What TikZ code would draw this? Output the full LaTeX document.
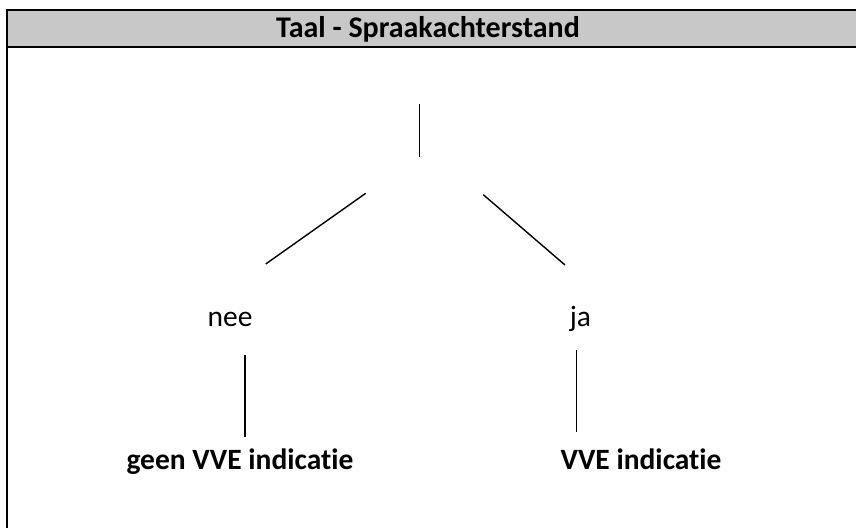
\documentclass[tikz,border=0pt]{standalone}
\usepackage{fontspec}
\setmainfont{Carlito}[Ligatures=NoCommon]
\usepackage{tikz}
\usetikzlibrary{positioning}
\definecolor{kopgrijs}{RGB}{200,200,200}

\begin{document}
\begin{tikzpicture}[x=1pt,y=-1pt,
		tekst/.style={anchor=base,inner sep=0pt,font=\fontsize{29.5}{34}\selectfont},
		vet/.style={tekst,font=\fontsize{29.5}{34}\selectfont\bfseries},
		rand/.style={line width=2.2pt},
		tak/.style={line width=1.4pt}]
		\useasboundingbox (0,0) rectangle (856,527);
		\fill[kopgrijs] (6.7,10) rectangle (870,46.7);
		\draw[rand] (6.7,540) -- (6.7,10) -- (870,10);
		\draw[rand] (6.7,46.7) -- (870,46.7);
		\node[vet,font=\fontsize{30}{34}\selectfont\bfseries] (titel) at (428,37.5) {Taal - Spraakachterstand};
		
		\path	(230,326.7) node[tekst] (nee) {nee}
			(580.5,326.7) node[tekst] (ja) {ja}
			(240,469) node[vet] (geen) {geen VVE indicatie}
			(641,469) node[vet] (vve) {VVE indicatie};
		\coordinate (stam0) at (419.5,104);
		\coordinate (stam1) at (419.5,157);
		\coordinate (links0) at (365.7,193.3);
		\coordinate (links1) at (265.7,264);
		\coordinate (rechts0) at (483.3,194.7);
		\coordinate (rechts1) at (565,265);
		\coordinate (nee0) at (245,355);
		\coordinate (nee1) at (245,436.7);
		\coordinate (ja0) at (576.7,350);
		\coordinate (ja1) at (576.7,432);
		\draw[tak] (stam0) -- (stam1);
		\draw[tak] (links0) -- (links1);
		\draw[tak] (rechts0) -- (rechts1);
		\draw[tak] (nee0) -- (nee1);
		\draw[tak] (ja0) -- (ja1);
	\end{tikzpicture}
\end{document}
